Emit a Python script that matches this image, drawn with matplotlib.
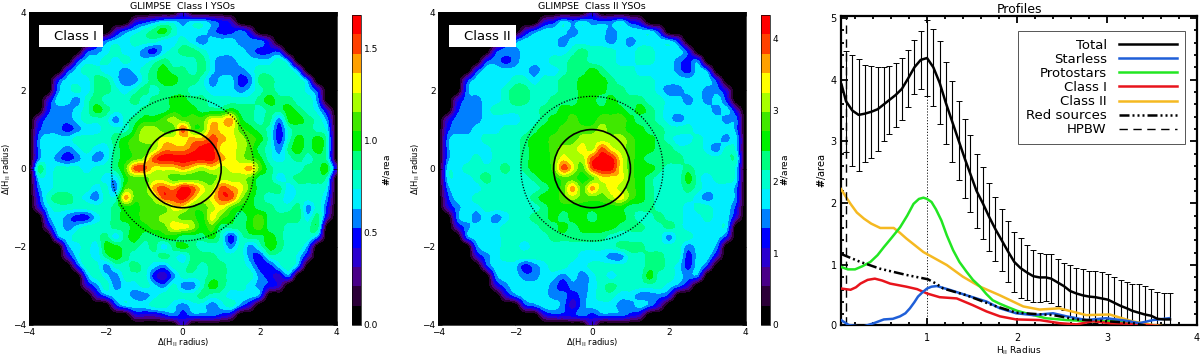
import numpy as np
import matplotlib
matplotlib.use("Agg")
import matplotlib.pyplot as plt
from matplotlib.colors import ListedColormap, Normalize
from matplotlib.ticker import MultipleLocator
from matplotlib.patches import Circle, Rectangle

# Band colours of the maps' colour scale, low to high
BANDS = ["#000000", "#2c0038", "#4a0088", "#2a00d0", "#0000ff", "#0080ff", "#00eeff", "#00ffcc",
         "#00ff80", "#00f000", "#40e800", "#a8ff00", "#ffff00", "#ffa000", "#ff4000", "#ff0000"]

# Map values as colour-band index (hex digit per cell), rows y=+4..-4, cols x=-4..4, step 0.25
CLASS1_ROWS = [
    "00000000000000" "12321" "00000000000000",
    "0000000000" "1345665665431" "0000000000",
    "00000000" "13567897666544531" "00000000",
    "000000" "135667776676566655531" "000000",
    "00000" "14567665467887666654441" "00000",
    "0000" "1466767667877786556666751" "0000",
    "000" "146776656789887865556777751" "000",
    "00" "14666886557899887566458877751" "00",
    "00" "25676887678788877666567877764" "00",
    "00" "366578777878899887777789887751" "0",
    "0" "1455679877788899988898878898763" "0",
    "0355567775" "7899abaaac" "cd98785998" "750",
    "0455456677" "79bbaaeaad" "cca9874788" "761",
    "1566677778" "9abbcccdde" "dcba974798" "971",
    "2566567668" "9aabdddeff" "ccba875898" "972",
    "2565456568" "9abeffffff" "dcba976787" "872",
    "2867776778" "aeecccdcbc" "bccda87778" "893",
    "1667777766" "9aabbaaaaa" "bbba886788" "871",
    "0567777675" "aaadedfecb" "edca888677" "760",
    "0478876577" "daabeefdbc" "eeb9877677" "750",
    "0367777778" "99aaaccaab" "ca99887785" "740",
    "0156544678" "99aabbaa9c" "a989a88886" "830",
    "0036567778" "899aaccb9a" "8889a88777" "810",
    "0015677786" "8988998889" "7478898777" "500",
    "0002567699" "8878689877" "7575798775" "200",
    "0000367689" "8777876888" "7775477763" "000",
    "0000147757" "7876577878" "8776446751" "000",
    "0000025765" "7774357778" "8777543520" "000",
    "0000003575" "6676575579" "8776543000" "000",
    "0000000356" "6556777787" "7666520000" "000",
    "0000000014" "6667765665" "6753100000" "000",
    "0000000000" "1333454555" "4310000000" "000",
    "00000000000000" "12321" "00000000000000",
]
CLASS2_ROWS = [
    "00000000000000" "12321" "00000000000000",
    "0000000000" "1346565556431" "0000000000",
    "00000000" "13566656665666641" "00000000",
    "000000" "135666656666565666641" "000000",
    "00000" "1455666667" "8777667766" "641" "00000",
    "0000" "1454566677" "8877766776" "65451" "0000",
    "000" "1466666566" "7889877766" "6654651" "000",
    "00" "1466667767" "7889998777" "766666641" "00",
    "00" "2566678877" "7889998877" "765566553" "00",
    "00" "3556678877" "8889989888" "7766565641" "0",
    "0" "1455677777" "8899999998" "9876666656" "3" "0",
    "0355566667" "7899a99aaa" "9887656666" "550",
    "0455666777" "899aaaabaa" "9988777666" "651",
    "1566677778" "99aaabbbbb" "a998766766" "562",
    "2566667778" "99abbcbecb" "a998877765" "762",
    "2566767778" "99acbbeffc" "a988887777" "772",
    "2667777878" "99aecaeffc" "a998778777" "762",
    "1666787777" "899aa9accc" "a987779767" "761",
    "0566677777" "789adadbcb" "a987778766" "650",
    "0466777777" "899abaaabc" "a987777656" "650",
    "0356677777" "7899999999" "8887776776" "640",
    "0156565677" "8898998999" "8778776676" "630",
    "0035666777" "7889899998" "8877876666" "610",
    "0015666777" "7788888877" "7777577666" "400",
    "0002566776" "7777777778" "8877775665" "200",
    "0000356777" "7777766655" "7788774663" "000",
    "0000146664" "5677667777" "7788764641" "000",
    "0000025665" "5665656767" "7797765520" "000",
    "0000003566" "6654556787" "7777653000" "000",
    "0000000356" "6655456776" "6555420000" "000",
    "0000000014" "5665356665" "5653100000" "000",
    "0000000000" "1344454555" "4310000000" "000",
    "00000000000000" "12321" "00000000000000",
]
CLASS1_MAX = 1.68
CLASS2_MAX = 4.33
CLASS1_TICKS = [0.0, 0.5, 1.0, 1.5]
CLASS2_TICKS = [0, 1, 2, 3, 4]

# Radial profiles
total_r = [0.05, 0.10, 0.17, 0.24, 0.31, 0.38, 0.45, 0.52, 0.58, 0.65, 0.72, 0.79, 0.86, 0.93, 1.00, 1.07, 1.14, 1.21,
           1.28, 1.35, 1.42, 1.48, 1.55, 1.62, 1.69, 1.76, 1.83, 1.90, 1.97, 2.04, 2.11, 2.18, 2.25, 2.32, 2.38, 2.45,
           2.52, 2.59, 2.66, 2.73, 2.80, 2.87, 2.94, 3.01, 3.08, 3.15, 3.22, 3.28, 3.35, 3.42, 3.49, 3.56, 3.63, 3.70]
total_y = [3.92, 3.65, 3.50, 3.43, 3.45, 3.48, 3.52, 3.60, 3.67, 3.75, 3.85, 4.02, 4.20, 4.32, 4.35, 4.20, 3.95, 3.62,
           3.32, 3.02, 2.72, 2.48, 2.20, 2.00, 1.78, 1.58, 1.40, 1.22, 1.05, 0.95, 0.88, 0.82, 0.80, 0.80, 0.78, 0.72,
           0.66, 0.58, 0.54, 0.51, 0.49, 0.48, 0.46, 0.44, 0.39, 0.34, 0.30, 0.26, 0.23, 0.20, 0.18, 0.13, 0.12, 0.12]
total_err = [np.nan, 0.82, 0.90, 0.91, 0.78, 0.74, 0.68, 0.60, 0.55, 0.52, 0.50, 0.46, 0.44, 0.47, 0.62, 0.62, 0.67, 0.66,
             0.66, 0.64, 0.64, 0.62, 0.60, 0.58, 0.55, 0.52, 0.50, 0.50, 0.48, 0.48, 0.45, 0.42, 0.40, 0.38, 0.40, 0.38,
             0.38, 0.42, 0.42, 0.42, 0.42, 0.42, 0.43, 0.42, 0.42, 0.42, 0.42, 0.44, 0.46, 0.46, 0.44, 0.44, 0.42, 0.43]
starless_r = [0.044, 0.13, 0.28, 0.41, 0.52, 0.62, 0.70, 0.76, 0.81, 0.86, 0.90, 0.95, 1.00, 1.05, 1.11, 1.25, 1.44, 1.66,
              1.81, 1.99, 2.18, 2.40, 2.55, 2.77, 2.99, 3.21, 3.36, 3.51, 3.69]
starless_y = [0.11, 0.03, 0.00, 0.06, 0.12, 0.13, 0.17, 0.22, 0.30, 0.40, 0.49, 0.56, 0.62, 0.65, 0.66, 0.60, 0.51, 0.41,
              0.30, 0.22, 0.19, 0.22, 0.17, 0.11, 0.14, 0.10, 0.06, 0.11, 0.14]
proto_r = [0.044, 0.12, 0.20, 0.28, 0.37, 0.45, 0.52, 0.60, 0.70, 0.78, 0.85, 0.91, 0.96, 1.00, 1.05, 1.10, 1.16, 1.22,
           1.29, 1.36, 1.44, 1.51, 1.59, 1.66, 1.73, 1.80, 1.88, 2.00, 2.10, 2.32, 2.55, 2.84, 3.14, 3.43, 3.69]
proto_y = [0.97, 0.93, 0.93, 0.98, 1.05, 1.16, 1.29, 1.43, 1.61, 1.80, 1.99, 2.07, 2.09, 2.07, 2.02, 1.90, 1.72, 1.48,
           1.24, 1.05, 0.89, 0.76, 0.65, 0.53, 0.43, 0.38, 0.33, 0.26, 0.22, 0.14, 0.11, 0.09, 0.09, 0.02, 0.00]
class1_r = [0.044, 0.15, 0.21, 0.26, 0.34, 0.42, 0.50, 0.59, 0.77, 0.89, 1.00, 1.14, 1.33, 1.51, 1.66, 1.81, 1.99, 2.25,
            2.47, 2.66, 2.84, 3.03, 3.28, 3.69]
class1_y = [0.62, 0.60, 0.64, 0.70, 0.76, 0.78, 0.75, 0.70, 0.65, 0.61, 0.54, 0.48, 0.46, 0.35, 0.25, 0.17, 0.12, 0.11,
            0.06, 0.04, 0.09, 0.06, 0.05, 0.00]
class2_r = [0.044, 0.10, 0.15, 0.22, 0.30, 0.38, 0.48, 0.56, 0.63, 0.70, 0.77, 0.96, 1.22, 1.40, 1.59, 1.81, 2.07, 2.25,
            2.47, 2.77, 3.03, 3.28, 3.51, 3.69]
class2_y = [2.23, 2.10, 1.99, 1.85, 1.75, 1.67, 1.60, 1.60, 1.60, 1.52, 1.43, 1.21, 1.00, 0.81, 0.65, 0.51, 0.33, 0.28,
            0.30, 0.19, 0.20, 0.09, 0.03, 0.00]
red_r = [0.044, 0.26, 0.48, 0.77, 1.01, 1.10, 1.18, 1.44, 1.73, 1.99, 2.18, 2.40, 2.66, 2.92, 3.28, 3.43]
red_y = [1.18, 1.05, 0.94, 0.84, 0.77, 0.70, 0.62, 0.51, 0.35, 0.23, 0.21, 0.19, 0.12, 0.10, 0.06, 0.02]
legend_names = ["Total", "Starless", "Protostars", "Class I", "Class II", "Red sources", "HPBW"]
HPBW_R = 0.10

W, H = 1200, 357
plt.rcParams["font.family"] = ["DejaVu Sans"]
plt.rcParams["mathtext.default"] = "regular"
fig = plt.figure(figsize=(W / 100, H / 100), dpi=100)

def px_axes(x0, y0, x1, y1):
    return fig.add_axes([x0 / W, 1 - y1 / H, (x1 - x0) / W, (y1 - y0) / H])

cmap = ListedColormap(BANDS)
AREA = r"$\mathbf{\#}$/area"

def draw_map(rows, vmax, ticks, tickfmt, box, cbox, title, tag, tagbox):
    ax = px_axes(*box)
    lv = np.array([[int(c, 16) for c in r] for r in rows], dtype=float)
    lv[lv < 3] = 0      # the thin rim is produced by the interpolation itself
    bw = vmax / 16.0
    z = np.where(lv > 0, (lv + 0.5) * bw, 0.0)
    im = ax.imshow(z, extent=[-4.125, 4.125, -4.125, 4.125], origin="upper", cmap=cmap,
                   norm=Normalize(0, vmax), interpolation="spline16", aspect="auto")
    ax.set_xlim(-4, 4)
    ax.set_ylim(-4, 4)
    ax.add_patch(Circle((0, 0), 1.0, fill=False, ec="black", lw=1.2))
    ax.add_patch(Circle((0, 0), 1.85, fill=False, ec="black", lw=0.9, ls=(0, (1, 1.3))))
    ax.set_xticks([-4, -2, 0, 2, 4])
    ax.set_yticks([-4, -2, 0, 2, 4])
    ax.tick_params(which="major", direction="in", length=3, width=0.5, labelsize=6.5, pad=2, top=True, right=True)
    for s in ax.spines.values():
        s.set_linewidth(0.5)
    ax.set_xlabel(r"$\Delta$(H$_{II}$ radius)", fontsize=6, labelpad=0)
    ax.set_ylabel(r"$\Delta$(H$_{II}$ radius)", fontsize=6, labelpad=0)
    ax.set_title(title, fontsize=6.8, pad=2.5)
    x0, y0, w, h = tagbox
    ax.add_patch(Rectangle((x0, y0), w, h, fc="white", ec="none", zorder=5))
    ax.text(x0 + w - 0.15, y0 + h / 2, tag, fontsize=9.5, ha="right", va="center", zorder=6)
    cax = px_axes(*cbox)
    cb = fig.colorbar(im, cax=cax)
    cb.set_ticks(ticks)
    cb.set_ticklabels([tickfmt % t for t in ticks])
    cax.tick_params(length=0, labelsize=6.5, pad=2)
    cb.outline.set_linewidth(0.5)
    cb.set_label(AREA, fontsize=6.5, labelpad=2)
    return cax

cax1 = draw_map(CLASS1_ROWS, CLASS1_MAX, CLASS1_TICKS, "%.1f", (28.7, 12.3, 336.7, 325), (352, 15, 361, 325),
                "GLIMPSE  Class I YSOs", "Class I", (-3.73, 3.1, 1.65, 0.58))
cax2 = draw_map(CLASS2_ROWS, CLASS2_MAX, CLASS2_TICKS, "%d", (438.3, 12.3, 745.7, 325), (761, 15, 770, 325),
                "GLIMPSE  Class II YSOs", "Class II", (-3.73, 3.1, 1.75, 0.58))
cax2.yaxis.labelpad = 0

ax = px_axes(841, 16, 1197, 325)
ax.errorbar(total_r, total_y, yerr=total_err, fmt="none", ecolor="black", elinewidth=0.8, capsize=2.2, capthick=0.7, zorder=2)
ax.plot(total_r, total_y, color="black", lw=1.8, zorder=6, label=legend_names[0])
ax.plot(starless_r, starless_y, color="#1f5fd8", lw=1.8, zorder=5, label=legend_names[1])
ax.plot(proto_r, proto_y, color="#22e622", lw=1.8, zorder=4, label=legend_names[2])
ax.plot(class1_r, class1_y, color="#e8141c", lw=1.8, zorder=4, label=legend_names[3])
ax.plot(class2_r, class2_y, color="#f5b921", lw=1.8, zorder=3, label=legend_names[4])
ax.plot(red_r, red_y, color="black", lw=1.8, ls=(0, (4, 1.2, 0.8, 1.2, 0.8, 1.2, 0.8, 1.2)), zorder=5, label=legend_names[5])
ax.plot([HPBW_R, HPBW_R], [0.03, 5.0], color="black", lw=1.0, ls=(0, (6, 4)), zorder=3, label=legend_names[6])
ax.plot([1, 1], [0.03, 5.0], color="black", lw=0.6, ls=(0, (1.5, 2)), zorder=1)
ax.set_xlim(0.044, 4)
ax.set_ylim(0.03, 5.03)
ax.set_xticks([1, 2, 3, 4])
ax.set_yticks([0.03, 1, 2, 3, 4, 5])
ax.set_yticklabels(["0", "1", "2", "3", "4", "5"])
ax.xaxis.set_minor_locator(MultipleLocator(0.2))
ax.yaxis.set_minor_locator(MultipleLocator(0.2))
ax.tick_params(which="major", direction="in", length=5, width=1.3, top=True, right=True, labelsize=7, pad=3)
ax.tick_params(axis="x", which="major", pad=6)
ax.tick_params(which="minor", direction="in", length=2.5, width=1.3, top=True, right=True)
for s in ax.spines.values():
    s.set_linewidth(1.6)
ax.set_xlabel("H$_{II}$ Radius", fontsize=6.5, labelpad=1)
ax.set_ylabel(AREA, fontsize=7, labelpad=2)
ax.set_title("Profiles", fontsize=9, pad=2)

handles, labels = ax.get_legend_handles_labels()
leg = ax.legend(handles, labels, loc="upper left", bbox_to_anchor=((1018 - 841) / 356, 1 - (31 - 16) / 309),
                borderaxespad=0, markerfirst=False, frameon=True, fancybox=False, edgecolor="#555555",
                framealpha=1, fontsize=9.5, labelspacing=0.08, handlelength=4.4, handletextpad=0.9,
                borderpad=0.6, alignment="right")
leg.get_frame().set_linewidth(0.7)
leg.set_zorder(10)
for t in leg.get_texts():
    t.set_ha("right")

fig.savefig("out.png", dpi=100)
